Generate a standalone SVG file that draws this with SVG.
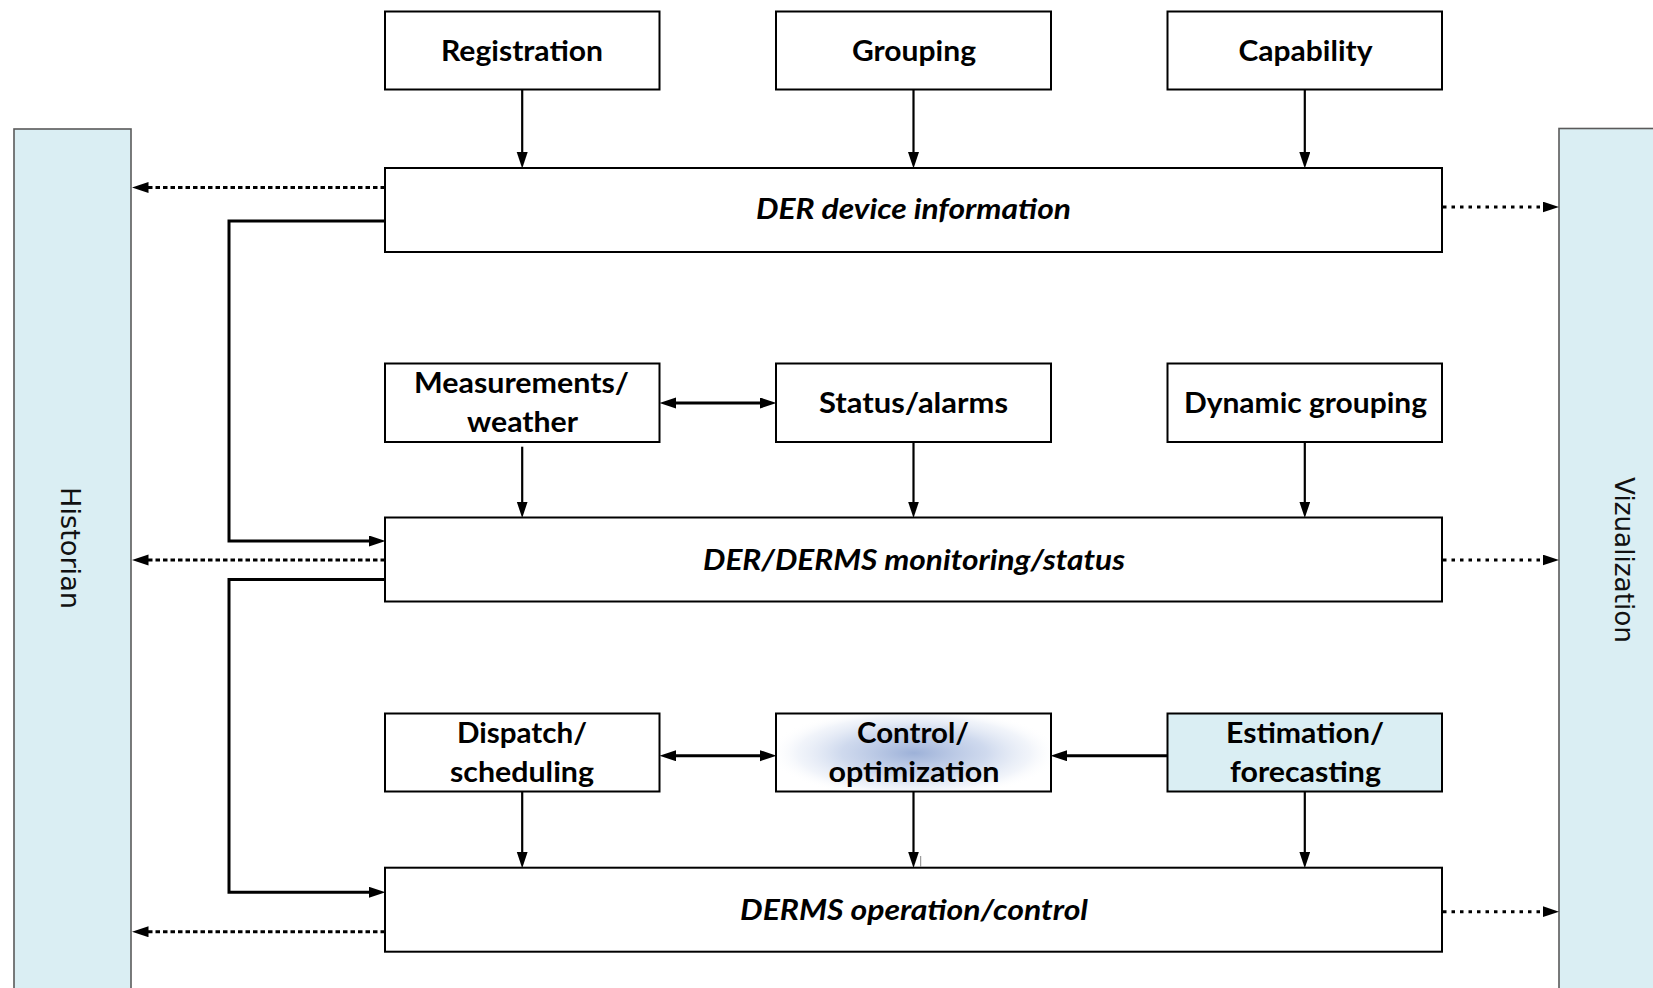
<svg xmlns="http://www.w3.org/2000/svg" width="1653" height="988" viewBox="0 0 1653 988">
<style>
.box{fill:#ffffff;stroke:#000;stroke-width:2}
.side{fill:#DAEEF3;stroke:#5a5a5a;stroke-width:1.6}
.lbl{font-family:Lato,"Open Sans",sans-serif;font-weight:bold;font-size:29px;fill:#000;text-anchor:middle}
.it{font-style:italic}
.vt{font-family:"DejaVu Sans",Verdana,sans-serif;font-size:27px;fill:#111;text-anchor:middle}
.v{fill:none;stroke:#000;stroke-width:2.2}
.h{fill:none;stroke:#000;stroke-width:3}
.dl{fill:none;stroke:#000;stroke-width:3;stroke-dasharray:4.5 3}
.dr{fill:none;stroke:#000;stroke-width:3;stroke-dasharray:3.5 5}
</style>
<defs>
<marker id="ah" markerUnits="userSpaceOnUse" markerWidth="17" markerHeight="12" refX="8" refY="5.5" orient="auto-start-reverse" viewBox="0 0 17 12">
<path d="M0,0 L16.5,5.5 L0,11 z" fill="#000"/>
</marker>
<radialGradient id="glow" cx="0.5" cy="0.5" r="0.5">
<stop offset="0" stop-color="#9DB1D8" stop-opacity="1"/>
<stop offset="0.5" stop-color="#BFCDE8" stop-opacity="0.75"/>
<stop offset="0.8" stop-color="#E0E7F4" stop-opacity="0.45"/>
<stop offset="1" stop-color="#ffffff" stop-opacity="0"/>
</radialGradient>
<clipPath id="ctlclip"><rect x="777" y="714.5" width="273" height="76"/></clipPath>
</defs>

<g id="historian">
<rect class="side" x="14" y="129" width="117" height="870"/>
<text class="vt" transform="translate(70,548) rotate(90)" y="9.5" textLength="122" lengthAdjust="spacingAndGlyphs">Historian</text>
</g>
<g id="visualization">
<rect class="side" x="1559" y="128.5" width="110" height="870"/>
<text class="vt" transform="translate(1624.5,560) rotate(90)" y="9.5" textLength="166" lengthAdjust="spacingAndGlyphs">Vizualization</text>
</g>

<g id="registration">
<rect class="box" x="385" y="11.5" width="274.5" height="78"/>
<text class="lbl" x="522" y="60.5" textLength="162" lengthAdjust="spacingAndGlyphs">Registration</text>
</g>
<g id="grouping">
<rect class="box" x="776" y="11.5" width="275" height="78"/>
<text class="lbl" x="914" y="60.5" textLength="124" lengthAdjust="spacingAndGlyphs">Grouping</text>
</g>
<g id="capability">
<rect class="box" x="1167.5" y="11.5" width="274.5" height="78"/>
<text class="lbl" x="1305.5" y="60.5" textLength="134" lengthAdjust="spacingAndGlyphs">Capability</text>
</g>

<g id="der-device-information">
<rect class="box" x="385" y="168" width="1057" height="84"/>
<text class="lbl it" x="913.5" y="219" textLength="315" lengthAdjust="spacingAndGlyphs">DER device information</text>
</g>

<g id="measurements">
<rect class="box" x="385" y="363.5" width="274.5" height="78.5"/>
<text class="lbl" x="521.5" y="393.3" textLength="215" lengthAdjust="spacingAndGlyphs">Measurements/</text>
<text class="lbl" x="522.5" y="431.7" textLength="111" lengthAdjust="spacingAndGlyphs">weather</text>
</g>
<g id="status-alarms">
<rect class="box" x="776" y="363.5" width="275" height="78.5"/>
<text class="lbl" x="913.5" y="412.5" textLength="189" lengthAdjust="spacingAndGlyphs">Status/alarms</text>
</g>
<g id="dynamic-grouping">
<rect class="box" x="1167.5" y="363.5" width="274.5" height="78.5"/>
<text class="lbl" x="1305.5" y="412.5" textLength="243" lengthAdjust="spacingAndGlyphs">Dynamic grouping</text>
</g>

<g id="der-derms-monitoring">
<rect class="box" x="385" y="517.5" width="1057" height="84"/>
<text class="lbl it" x="914" y="569.5" textLength="422" lengthAdjust="spacingAndGlyphs">DER/DERMS monitoring/status</text>
</g>

<g id="dispatch">
<rect class="box" x="385" y="713.5" width="274.5" height="78"/>
<text class="lbl" x="522" y="743.3" textLength="130" lengthAdjust="spacingAndGlyphs">Dispatch/</text>
<text class="lbl" x="522" y="781.7" textLength="144" lengthAdjust="spacingAndGlyphs">scheduling</text>
</g>
<g id="control">
<rect class="box" x="776" y="713.5" width="275" height="78"/>
<ellipse cx="914" cy="753" rx="145" ry="46" fill="url(#glow)" clip-path="url(#ctlclip)"/>
<text class="lbl" x="913" y="743.3" textLength="112" lengthAdjust="spacingAndGlyphs">Control/</text>
<text class="lbl" x="914" y="781.7" textLength="171" lengthAdjust="spacingAndGlyphs">optimization</text>
</g>
<g id="estimation">
<rect class="box" x="1167.5" y="713.5" width="274.5" height="78" style="fill:#DAEEF3"/>
<text class="lbl" x="1305" y="743.3" textLength="158" lengthAdjust="spacingAndGlyphs">Estimation/</text>
<text class="lbl" x="1305.5" y="781.7" textLength="151" lengthAdjust="spacingAndGlyphs">forecasting</text>
</g>

<g id="derms-operation">
<rect class="box" x="385" y="867.7" width="1057" height="84"/>
<text class="lbl it" x="914" y="919.5" textLength="348" lengthAdjust="spacingAndGlyphs">DERMS operation/control</text>
</g>

<g id="connectors">
<line class="v" x1="522.2" y1="89.5" x2="522.2" y2="160" marker-end="url(#ah)"/>
<line class="v" x1="913.5" y1="89.5" x2="913.5" y2="160" marker-end="url(#ah)"/>
<line class="v" x1="1304.8" y1="89.5" x2="1304.8" y2="160" marker-end="url(#ah)"/>
<line class="v" x1="522.2" y1="446.7" x2="522.2" y2="509.5" marker-end="url(#ah)"/>
<line class="v" x1="913.5" y1="442" x2="913.5" y2="509.5" marker-end="url(#ah)"/>
<line class="v" x1="1304.8" y1="442" x2="1304.8" y2="509.5" marker-end="url(#ah)"/>
<line class="v" x1="522.2" y1="791.5" x2="522.2" y2="859.7" marker-end="url(#ah)"/>
<line class="v" x1="913.5" y1="791.5" x2="913.5" y2="859.5" marker-end="url(#ah)"/>
<line class="v" x1="1304.8" y1="791.5" x2="1304.8" y2="859.7" marker-end="url(#ah)"/>
<line x1="920.7" y1="856" x2="920.7" y2="867" stroke="#888" stroke-width="1"/>
<line class="h" x1="668" y1="403" x2="768" y2="403" marker-start="url(#ah)" marker-end="url(#ah)"/>
<line class="h" x1="668" y1="755.7" x2="768" y2="755.7" marker-start="url(#ah)" marker-end="url(#ah)"/>
<line class="h" x1="1167.5" y1="755.7" x2="1059" y2="755.7" marker-end="url(#ah)"/>
<polyline class="h" points="385,221 229,221 229,541 377,541" marker-end="url(#ah)"/>
<polyline class="h" points="385,579.5 229,579.5 229,892.3 377,892.3" marker-end="url(#ah)"/>
<line class="dl" x1="385" y1="187.5" x2="140.5" y2="187.5" marker-end="url(#ah)"/>
<line class="dl" x1="385" y1="560" x2="140.5" y2="560" marker-end="url(#ah)"/>
<line class="dl" x1="385" y1="931.7" x2="140.5" y2="931.7" marker-end="url(#ah)"/>
<line class="dr" x1="1443" y1="207" x2="1550.5" y2="207" marker-end="url(#ah)"/>
<line class="dr" x1="1443" y1="560" x2="1550.5" y2="560" marker-end="url(#ah)"/>
<line class="dr" x1="1443" y1="911.7" x2="1550.5" y2="911.7" marker-end="url(#ah)"/>
</g>
</svg>
